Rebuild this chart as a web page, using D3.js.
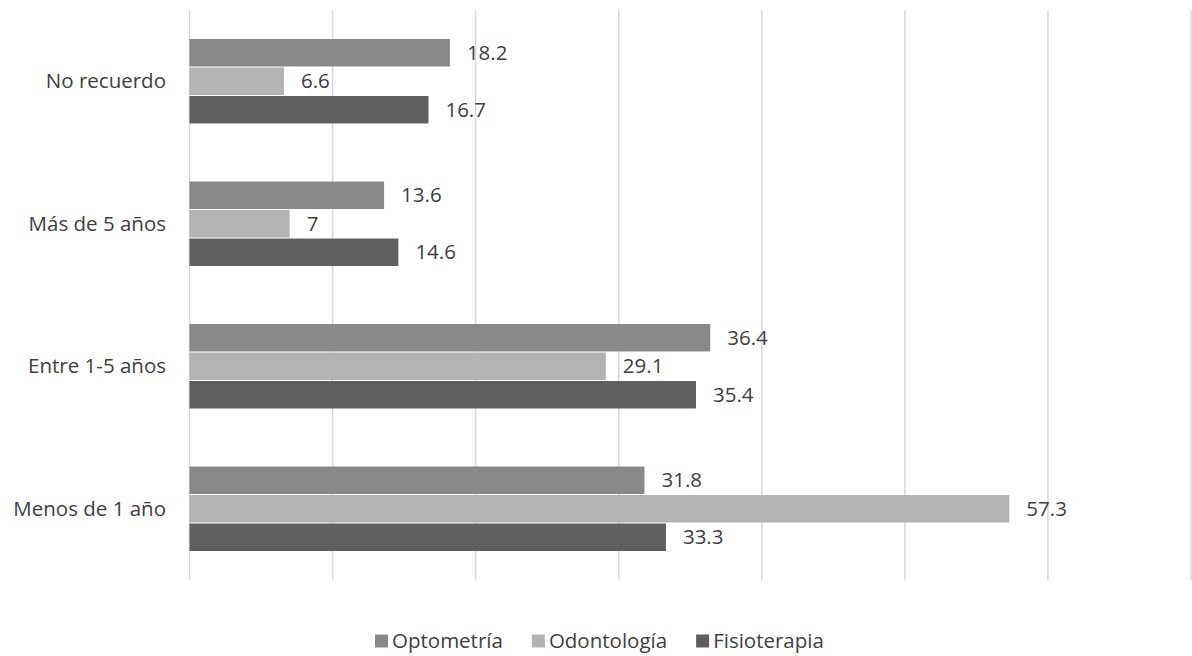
<!DOCTYPE html>
<html><head><meta charset="utf-8">
<script src="https://cdn.jsdelivr.net/npm/d3@7"></script>
<style>body{margin:0;background:#fff}svg{display:block}text{font-family:"Open Sans","Noto Sans",sans-serif}</style>
</head><body>
<svg id="c" width="1192" height="656"></svg>
<script>
const categories = ["No recuerdo","Más de 5 años","Entre 1-5 años","Menos de 1 año"];
const seriesNames = ["Optometría","Odontología","Fisioterapia"];
const optometria = [18.2, 13.6, 36.4, 31.8];
const odontologia = [6.6, 7, 29.1, 57.3];
const fisioterapia = [16.7, 14.6, 35.4, 33.3];
const xTicks = [0,10,20,30,40,50,60,70];
const colors = ["#898989","#b3b3b3","#5f5f5f"];

const seriesValues = [optometria, odontologia, fisioterapia];
const svg = d3.select("#c");
const FS = 20.5;
const x = d3.scaleLinear().domain([0,70]).range([189.5,1191]);
const y = d3.scaleBand().domain(categories).range([10,580]).paddingInner(0.4).paddingOuter(0.2);
const y1 = d3.scaleBand().domain(seriesNames).range([0,y.bandwidth()]);

svg.append("g").selectAll("line").data(xTicks).join("line")
  .attr("x1",d=>x(d)).attr("x2",d=>x(d)).attr("y1",10).attr("y2",580)
  .attr("stroke","#d9d9d9").attr("stroke-width",1.5);

const groups = svg.append("g").selectAll("g").data(categories).join("g")
  .attr("transform",c=>`translate(0,${y(c)})`);
groups.each(function(c,i){
  const g = d3.select(this);
  seriesNames.forEach((s,j)=>{
    const v = seriesValues[j][i];
    g.append("rect").attr("x",x(0)).attr("y",y1(s)+0.5).attr("width",x(v)-x(0)).attr("height",y1.bandwidth()-1)
      .attr("fill",colors[j]);
    g.append("text").attr("x",x(v)+17).attr("y",y1(s)+y1.bandwidth()/2).attr("dy","0.35em")
      .attr("font-size",FS).attr("fill","#404040").text(v);
  });
});

svg.append("g").selectAll("text").data(categories).join("text")
  .attr("x",166).attr("y",c=>y(c)+y.bandwidth()/2).attr("dy","0.35em").attr("text-anchor","end")
  .attr("font-size",FS).attr("fill","#404040").text(c=>c);

const legend = svg.append("g");
let lx = 375;
seriesNames.forEach((s,j)=>{
  const g = legend.append("g").attr("transform",`translate(${lx},641)`);
  g.append("rect").attr("x",0).attr("y",-6.5).attr("width",13).attr("height",13).attr("fill",colors[j]);
  const t = g.append("text").attr("x",17).attr("y",0).attr("dy","0.35em").attr("font-size",FS).attr("fill","#404040").text(s);
  lx += 17 + t.node().getComputedTextLength() + 29;
});
</script>
</body></html>
